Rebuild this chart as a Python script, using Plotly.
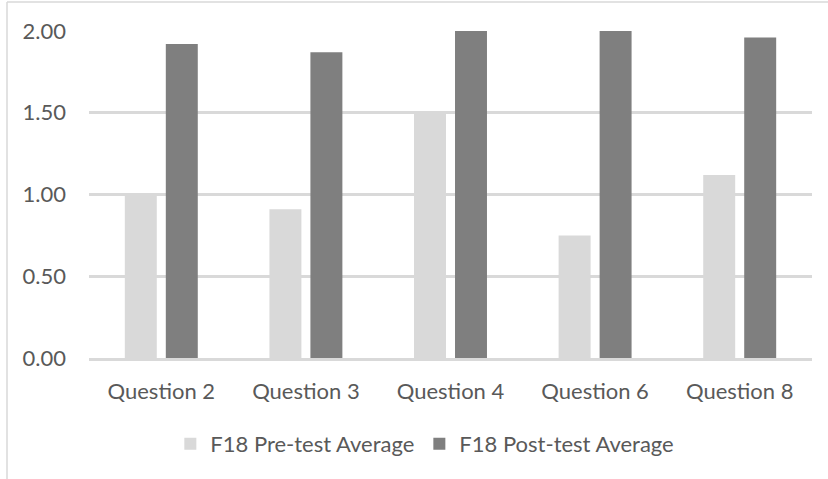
import plotly.graph_objects as go

categories = ["Question 2", "Question 3", "Question 4", "Question 6", "Question 8"]
pre_values = [1.00, 0.91, 1.50, 0.75, 1.12]
post_values = [1.92, 1.87, 2.00, 2.00, 1.96]
y_ticks = [0, 0.5, 1.0, 1.5, 2.0]
y_tick_labels = ["0.00", "0.50", "1.00", "1.50", "2.00"]

W, H = 828, 479
L, R, T, B = 89, 16, 31, 121
pw, ph = W - L - R, H - T - B

def px(x):
    return (x - L) / pw

def py(y):
    return (H - B - y) / ph

font_family = "Lato, Open Sans, sans-serif"
txt = "#595959"
fs = 22

fig = go.Figure()
fig.add_trace(go.Bar(x=categories, y=pre_values, name="F18 Pre-test Average",
                     marker=dict(color="#D9D9D9", line=dict(width=0))))
fig.add_trace(go.Bar(x=categories, y=post_values, name="F18 Post-test Average",
                     marker=dict(color="#7F7F7F", line=dict(width=0))))

fig.update_layout(
    width=W, height=H,
    margin=dict(l=L, r=R, t=T, b=B),
    paper_bgcolor="white", plot_bgcolor="white",
    barmode="group", bargap=0.433, bargroupgap=0.22,
    font=dict(family=font_family, color=txt, size=fs),
    xaxis=dict(showgrid=False, showline=True, linecolor="#D9D9D9", linewidth=2.5,
               ticks="", ticklabelstandoff=12, tickfont=dict(size=fs, color=txt)),
    yaxis=dict(range=[0, 2.0], tickvals=y_ticks, ticktext=y_tick_labels,
               showgrid=True, gridcolor="#D9D9D9", gridwidth=2.5,
               zeroline=False, showline=False, ticks="", ticklabelstandoff=22,
               tickfont=dict(size=fs, color=txt)),
    legend=dict(orientation="h", x=0.4645, xanchor="center", y=py(444), yanchor="middle",
                font=dict(size=fs, color=txt), itemwidth=30, traceorder="normal",
                bgcolor="rgba(0,0,0,0)"),
    showlegend=True,
)

fig.add_shape(type="line", xref="paper", yref="paper",
              x0=px(7), x1=px(W), y0=py(2), y1=py(2),
              line=dict(color="#D9D9D9", width=1.5))
fig.add_shape(type="line", xref="paper", yref="paper",
              x0=px(7), x1=px(7), y0=py(2), y1=py(H),
              line=dict(color="#D9D9D9", width=1.5))

fig.write_html("out.html", config={"displayModeBar": False},
               post_script="document.body.style.margin='0px';")
